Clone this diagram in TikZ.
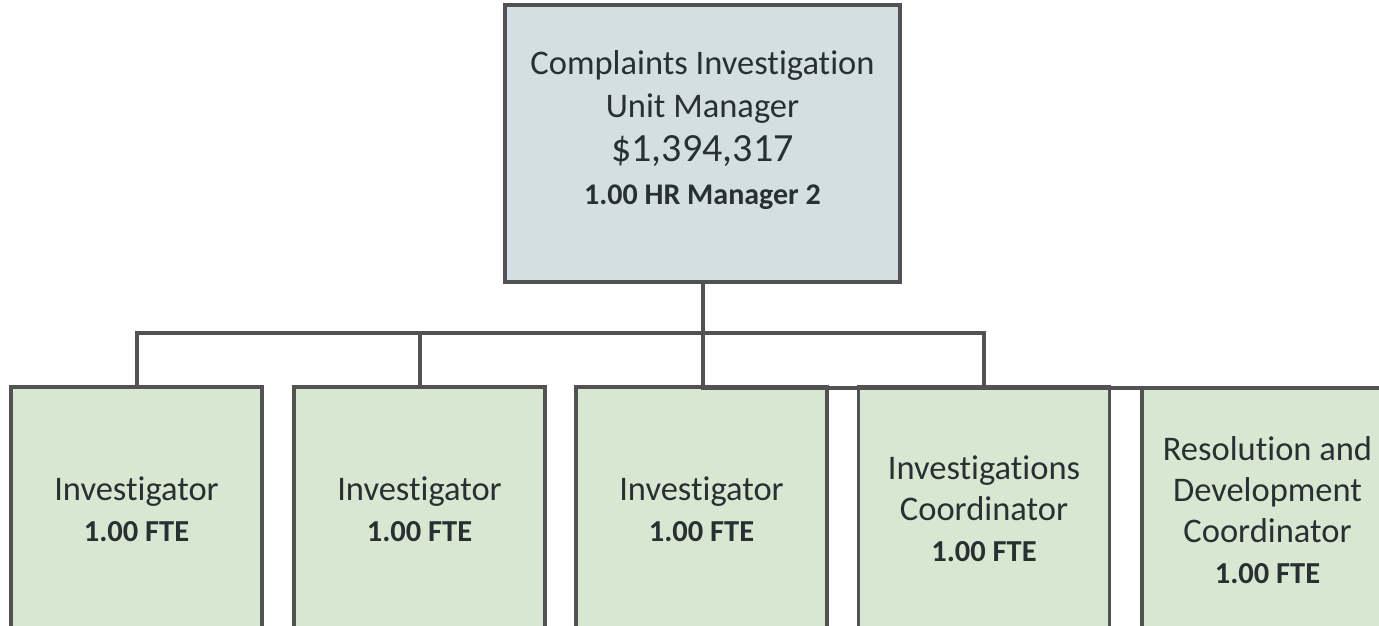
\documentclass[tikz,border=0pt]{standalone}
\usepackage{fontspec}
\setmainfont[Ligatures={NoCommon}]{Carlito}
\definecolor{topfill}{HTML}{D3DFE3}
\definecolor{botfill}{HTML}{D8E7D2}
\definecolor{edge}{HTML}{525252}
\definecolor{txt}{HTML}{283032}
\newcommand{\fte}{{\bfseries\fontsize{30.5}{41}\selectfont 1.00 FTE}}
\begin{document}
\begin{tikzpicture}[x=1pt,y=-1pt,
  box/.style={draw=edge, line width=3.5pt, minimum width=251pt, minimum height=244pt,
    inner sep=0pt, outer sep=0pt, fill=botfill, align=center, text=txt,
    font=\fontsize{34.5}{41}\selectfont},
  mgrbox/.style={draw=edge, line width=3.5pt, fill=topfill, minimum width=395pt,
    minimum height=277pt, inner sep=0pt, outer sep=0pt},
  mgrtxt/.style={align=center, text=txt, font=\fontsize{34.5}{43.5}\selectfont},
  conn/.style={draw=edge, line width=4pt}]
\useasboundingbox (0,0) rectangle (1379,625);
\clip (0,0) rectangle (1379,625);
\node[mgrbox] (mgr) at (702.5,143.5) {};
\node[mgrtxt] (mgrtext) at (702.5,130) {Complaints Investigation\\Unit Manager\\{\fontsize{40}{43.5}\selectfont \$1,394,317}\\{\bfseries\fontsize{30}{40}\selectfont 1.00 HR Manager 2}};
\node[box] (r1) at (136.5,509) {Investigator\\\fte};
\node[box] (r2) at (419.5,509) {Investigator\\\fte};
\node[box] (r3) at (701.5,509) {Investigator\\\fte};
\node[box] (r4) at (984,509) {Investigations\\Coordinator\\\fte};
\node[box] (r5) at (1267.5,510) {Resolution and\\Development\\Coordinator\\\fte};
\coordinate (bus) at (704,333);
\draw[conn] (mgr.south) |- (r5.north);
\draw[conn] (r1.north) |- (bus) -| (r4.north);
\draw[conn] (r2.north) -- (r2.north |- bus);
\end{tikzpicture}
\end{document}
